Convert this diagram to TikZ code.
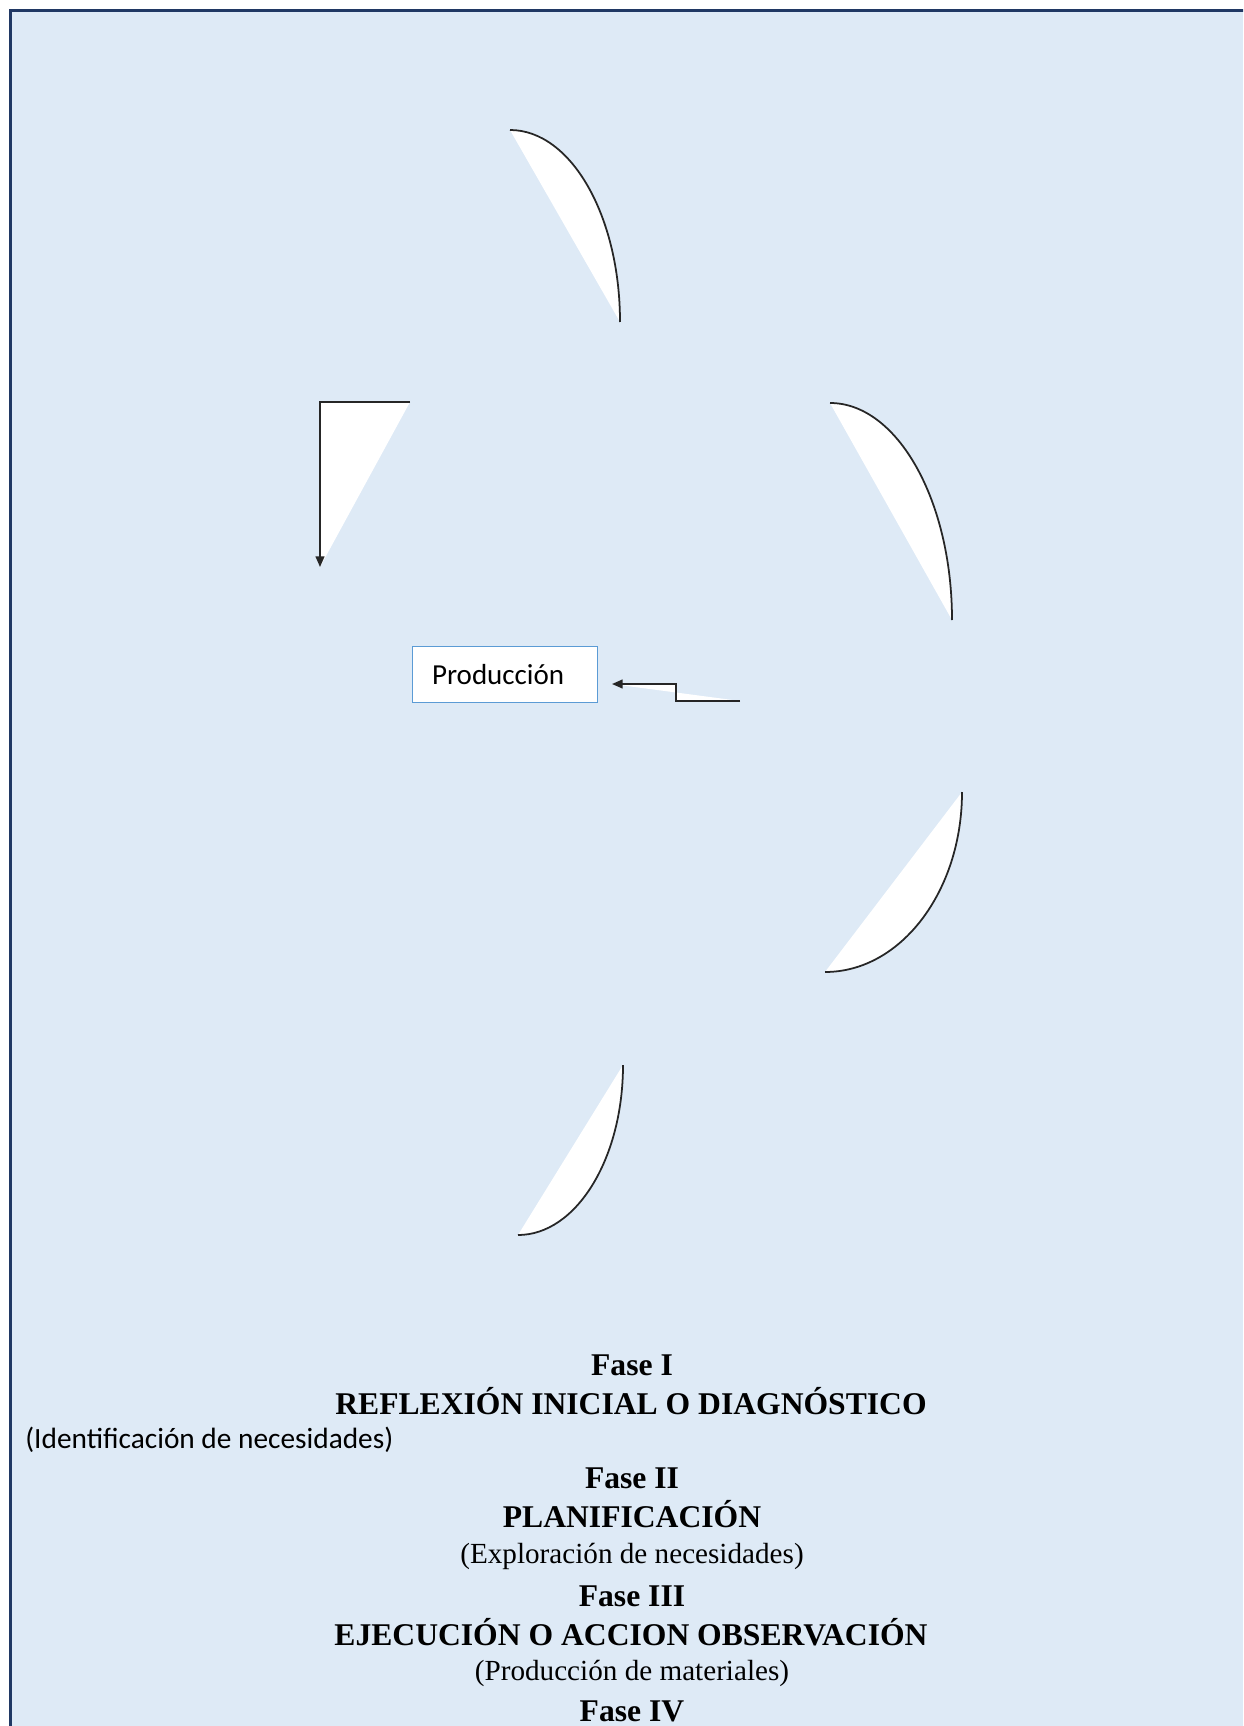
\documentclass[tikz,border=0pt]{standalone}
\usepackage{fontspec}
\setmainfont{Liberation Serif}
\newfontfamily\calibri{Carlito}
\usetikzlibrary{arrows.meta,positioning}
\definecolor{panel}{RGB}{222,234,246}
\definecolor{navy}{RGB}{32,56,100}
\definecolor{boxblue}{RGB}{91,155,213}
\tikzset{lens/.style={fill=white},rim/.style={draw=black!85,line width=1pt},elbow/.style={draw=black!85,line width=0.9pt,-{Triangle[length=6pt,width=5pt]}},prodbox/.style={draw=boxblue,line width=0.8pt,fill=white,text width=83pt,inner xsep=11pt,minimum height=32pt,align=left,font=\calibri\fontsize{16.5}{19}\selectfont},fase/.style={anchor=base,inner sep=0pt,font=\bfseries\fontsize{18}{20}\selectfont},sub/.style={anchor=base,inner sep=0pt,font=\fontsize{16.6}{20}\selectfont}}

\begin{document}
\begin{tikzpicture}[x=0.02cm,y=-0.02cm]
\useasboundingbox (0,0) rectangle (1243,1726);
\clip (0,0) rectangle (1243,1726);
\fill[panel] (10,10) rectangle (1243,1726);
\draw[navy,line width=2pt,line join=miter] (10.5,1740) -- (10.5,10.5) -- (1260,10.5);
% arcs
\path[lens] (510,130) .. controls (571,130) and (620,216) .. (620,322) -- cycle;
\draw[rim] (510,130) .. controls (571,130) and (620,216) .. (620,322);
\path[lens] (830,403) .. controls (897,403) and (952,500) .. (952,620) -- cycle;
\draw[rim] (830,403) .. controls (897,403) and (952,500) .. (952,620);
\path[lens] (962,792) .. controls (962,891) and (901,972) .. (825,972) -- cycle;
\draw[rim] (962,792) .. controls (962,891) and (901,972) .. (825,972);
\path[lens] (623,1065) .. controls (623,1159) and (576,1235) .. (518,1235) -- cycle;
\draw[rim] (623,1065) .. controls (623,1159) and (576,1235) .. (518,1235);
% box and elbow arrows
\node[prodbox] (prod) at (505,674.5) {Producción};
\coordinate (lstart) at (410,402);
\coordinate (ltip) at (320,567);
\fill[white] (lstart) -| (ltip) -- cycle;
\draw[elbow] (lstart) -| (ltip);
\coordinate (rstart) at (740,701);
\coordinate (rbend) at (676,701);
\coordinate (rtip) at (612,684);
\fill[white] (rstart) -- (rbend) |- (rtip) -- cycle;
\draw[elbow] (rstart) -- (rbend) |- (rtip);
% phases
\node[fase] (f1) at (632,1375) {Fase I};
\node[fase] (t1) at (631,1414) {REFLEXIÓN INICIAL O DIAGNÓSTICO};
\node[sub,anchor=base west,font=\calibri\fontsize{16.7}{19}\selectfont] (s1) at (25,1448) {(Identificación de necesidades)};
\node[fase] (f2) at (632,1488) {Fase II};
\node[fase] (t2) at (632,1527) {PLANIFICACIÓN};
\node[sub] (s2) at (632,1563) {(Exploración de necesidades)};
\node[fase] (f3) at (632,1606) {Fase III};
\node[fase] (t3) at (631,1645) {EJECUCIÓN O ACCION OBSERVACIÓN};
\node[sub] (s3) at (632,1680) {(Producción de materiales)};
\node[fase] (f4) at (632,1721) {Fase IV};
\end{tikzpicture}
\end{document}
